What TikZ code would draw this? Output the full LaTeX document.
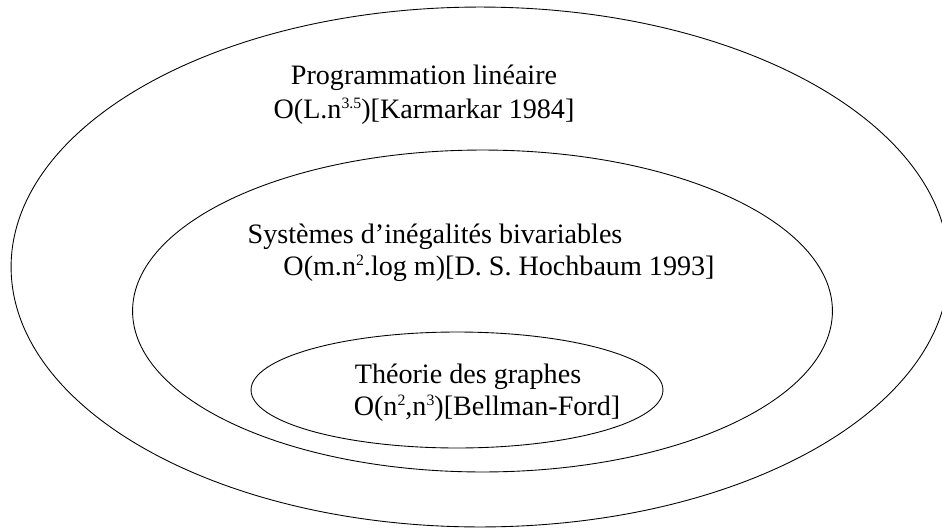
\documentclass[tikz,border=0pt]{standalone}
\usepackage{fontspec}
\setmainfont{Liberation Serif}
\usepackage{tikz}
\usetikzlibrary{shapes.geometric}
\newcommand{\expo}[1]{\raisebox{0.75ex}{\fontsize{9}{9}\selectfont #1}}

\begin{document}
\begin{tikzpicture}[x=0.02cm,y=-0.02cm,line width=0.5pt]
      \tikzset{ring/.style={draw,ellipse,inner sep=0pt}}
      \tikzset{txt/.style={anchor=base,inner sep=0pt,font=\fontsize{16}{18}\selectfont}}
      \useasboundingbox (0,0) rectangle (942,527);

      % nested domains
      \node[ring,minimum width=18.76cm,minimum height=10.4cm] (lp) at (480,267) {};
      \node[ring,minimum width=14cm,minimum height=6.44cm] (tvpi) at (482.5,311) {};
      \node[ring,minimum width=8.24cm,minimum height=2.32cm] (graph) at (457,390) {};

      % labels
      \node[txt] (lpname) at (424,85) {Programmation linéaire};
      \node[txt] (lpcost) at (424,118) {O(L.n\expo{3.5})[Karmarkar 1984]};
      \node[txt] (tvpiname) at (435,243) {Systèmes d’inégalités bivariables};
      \node[txt] (tvpicost) at (499,275) {O(m.n\expo{2}.log m)[D. S. Hochbaum 1993]};
      \node[txt] (graphname) at (468,383) {Théorie des graphes};
      \node[txt] (graphcost) at (487,415) {O(n\expo{2},n\expo{3})[Bellman-Ford]};
\end{tikzpicture}
\end{document}
